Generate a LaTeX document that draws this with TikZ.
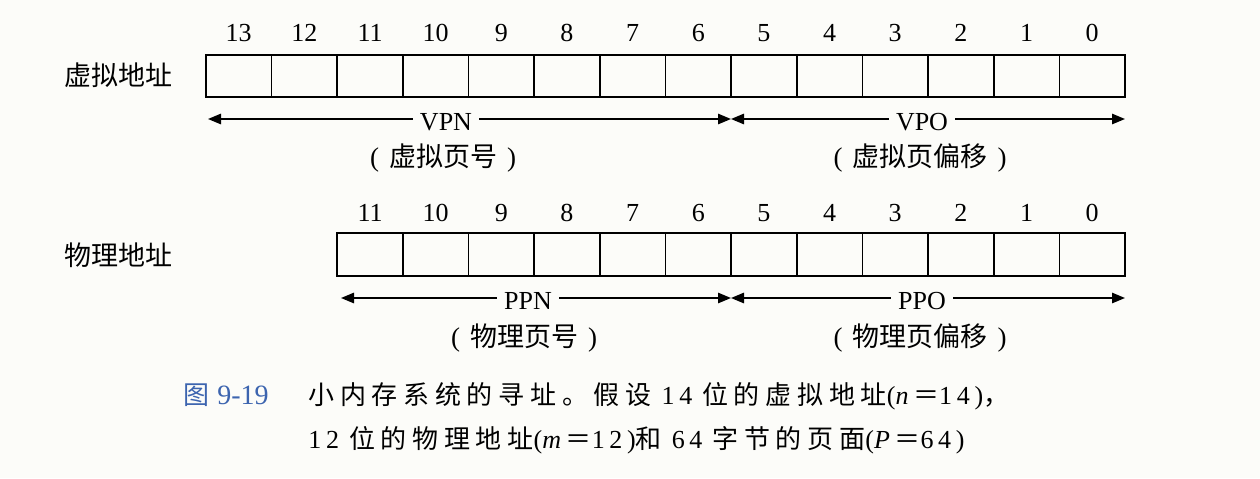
\documentclass[tikz,border=0pt]{standalone}
\usepackage{fontspec}
\setmainfont{Liberation Serif}
\newfontfamily\cjk{Noto Sans CJK SC}
\newfontfamily\capcjk[LetterSpace=22]{Noto Sans CJK SC}
\newfontfamily\caplat[LetterSpace=18]{Liberation Serif}
\usetikzlibrary{arrows.meta,positioning}
\definecolor{figblue}{RGB}{60,100,175}
\definecolor{paper}{RGB}{252,252,249}
\tikzset{
  cell/.style={draw,line width=0.85pt,minimum width=32.82pt,minimum height=21.2pt,inner sep=0pt},
  bitno/.style={font=\fontsize{13}{15}\selectfont,inner sep=0pt},
  field/.style={font=\fontsize{13}{15}\selectfont,inner sep=3.5pt},
  fieldcn/.style={font=\fontsize{13.5}{16}\selectfont,inner sep=0pt},
  rowname/.style={font=\cjk\fontsize{13.5}{16}\selectfont,inner sep=0pt},
  dimarrow/.style={line width=0.8pt,-{Triangle[length=6.5pt,width=5.2pt]}},
  captext/.style={font=\caplat\fontsize{13}{15}\selectfont,inner sep=0pt,anchor=base west}
}
\begin{document}
\begin{tikzpicture}[x=0.5pt,y=-0.5pt]
\fill[paper] (0,0) rectangle (1260,478);
\useasboundingbox (0,0) rectangle (1260,478);

%% The virtual address, 14 bits
\node[rowname] (vaddr) at (118,75) {虚拟地址};
\foreach \i in {0,...,13}{
  \node[cell] (v\i) at ({1125-(\i+0.5)*65.65},76) {};
  \node[bitno] (vb\i) at ({1125-(\i+0.5)*65.65},33) {\i};
}

% the VPN and VPO spans
\coordinate (vl) at (208,119);
\coordinate (vm) at (731,119);
\coordinate (vr) at (1125,119);
\node[field] (vpn) at (446,122) {VPN};
\draw[dimarrow] (vl -| vpn.west) -- (vl);
\draw[dimarrow] (vl -| vpn.east) -- (vm);
\node[field] (vpo) at (922,122) {VPO};
\draw[dimarrow] (vl -| vpo.west) -- (vm);
\draw[dimarrow] (vl -| vpo.east) -- (vr);
\node[fieldcn] (vpncn) at (443,158) {(\hspace{5pt}{\cjk 虚拟页号}\hspace{5pt})};
\node[fieldcn] (vpocn) at (920,158) {(\hspace{5pt}{\cjk 虚拟页偏移}\hspace{5pt})};

%% The physical address, 12 bits
\node[rowname] (paddr) at (118,255) {物理地址};
\foreach \i in {0,...,11}{
  \node[cell] (p\i) at ({1125-(\i+0.5)*65.65},254.5) {};
  \node[bitno] (pb\i) at ({1125-(\i+0.5)*65.65},213) {\i};
}

% the PPN and PPO spans
\coordinate (pl) at (341,298);
\coordinate (pm) at (731,298);
\coordinate (pr) at (1125,298);
\node[field] (ppn) at (528,301) {PPN};
\draw[dimarrow] (pl -| ppn.west) -- (pl);
\draw[dimarrow] (pl -| ppn.east) -- (pm);
\node[field] (ppo) at (922,301) {PPO};
\draw[dimarrow] (pl -| ppo.west) -- (pm);
\draw[dimarrow] (pl -| ppo.east) -- (pr);
\node[fieldcn] (ppncn) at (524,338) {(\hspace{5pt}{\cjk 物理页号}\hspace{5pt})};
\node[fieldcn] (ppocn) at (920,338) {(\hspace{5pt}{\cjk 物理页偏移}\hspace{5pt})};

%% The caption
\node[captext,text=figblue] (figno) at (183,404) {{\capcjk 图}\hspace{4pt}{\fontspec{Liberation Serif}\fontsize{14}{15}\selectfont 9-19}};
\node[captext] (cap1) at (308,404) {{\capcjk 小内存系统的寻址。假设}\hspace{5pt}14\hspace{5pt}{\capcjk 位的虚拟地址}(\textit{n}{\capcjk ＝}14){\capcjk ，}};
\node[captext] (cap2) at (308,448) {12\hspace{5pt}{\capcjk 位的物理地址}(\textit{m}{\capcjk ＝}12){\capcjk 和}\hspace{5pt}64\hspace{5pt}{\capcjk 字节的页面}(\textit{P}{\capcjk ＝}64)};

\end{tikzpicture}
\end{document}
